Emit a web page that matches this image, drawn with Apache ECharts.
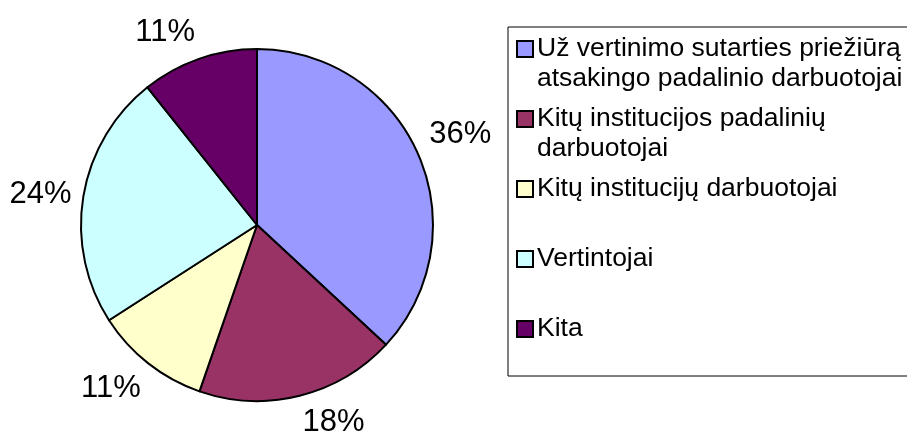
<!DOCTYPE html>
<html>
<head>
<meta charset="utf-8">
<script src="https://cdn.jsdelivr.net/npm/echarts@6/dist/echarts.min.js"></script>
<style>
  html, body { margin: 0; padding: 0; background: #fff; }
  #piechart { width: 907px; height: 437px; }
</style>
</head>
<body>
<div id="piechart"></div>
<script>
// categories (the \n marks where the legend wraps the name)
var names = [
    'Už vertinimo sutarties priežiūrą\natsakingo padalinio darbuotojai',
    'Kitų institucijos padalinių\ndarbuotojai',
    'Kitų institucijų darbuotojai',
    'Vertintojai',
    'Kita'
];
// slice sizes as drawn in the picture
var values = [36.9, 18.4, 10.6, 23.4, 10.7];
// percent labels as printed next to the slices
var percentLabels = ['36%', '18%', '11%', '24%', '11%'];
var colors = ['#9999FF', '#993366', '#FFFFCC', '#CCFFFF', '#660066'];

var font = "'Liberation Sans', Arial, sans-serif";
var pieCenter = [257, 225];
var pieRadius = 176;
var labelGap = 12;

var total = values.reduce(function (a, b) { return a + b; }, 0);

// one rich style per legend marker
var rich = {
    t: {fontSize: 26.5, fontFamily: font, color: '#000', lineHeight: 30},
    g: {width: 5, height: 1, lineHeight: 30},
    s: {width: 19, height: 1, lineHeight: 30}
};
colors.forEach(function (c, i) {
    rich['m' + i] = {
        width: 14, height: 14, lineHeight: 30,
        backgroundColor: c, borderColor: '#000', borderWidth: 2
    };
});

// excel-like placement: the label box corner sits on the slice's middle ray
function placeLabel(params) {
    var i = params.dataIndex;
    var before = 0;
    for (var k = 0; k < i; k++) before += values[k];
    var a = 2 * Math.PI * (before + values[i] / 2) / total;
    var dx = Math.sin(a), dy = -Math.cos(a);
    var d = pieRadius + labelGap;
    return {
        x: pieCenter[0] + d * dx,
        y: pieCenter[1] + d * dy,
        align: dx >= 0 ? 'left' : 'right',
        verticalAlign: Math.abs(dy) < 0.26 ? 'middle' : (dy > 0 ? 'top' : 'bottom')
    };
}

var myChart = echarts.init(document.getElementById('piechart'), null, {renderer: 'canvas'});

var option = {
    backgroundColor: '#fff',
    animation: false,
    legend: {
        orient: 'vertical',
        left: 508,
        top: 27,
        width: 440,
        padding: [7, 20, 2, 5],
        itemGap: 10,
        itemWidth: 0,
        itemHeight: 8,
        icon: 'none',
        borderColor: '#000',
        borderWidth: 1,
        backgroundColor: '#fff',
        selectedMode: false,
        data: names,
        formatter: function (name) {
            var i = names.indexOf(name);
            var lines = name.split('\n');
            return '{m' + i + '|}{g|}{t|' + lines[0] + '}\n{s|}{t|' + (lines[1] || ' ') + '}';
        },
        textStyle: {fontSize: 26.5, fontFamily: font, color: '#000', lineHeight: 30, rich: rich}
    },
    series: [
        {
            name: 'pie',
            type: 'pie',
            center: pieCenter,
            radius: [0, pieRadius],
            startAngle: 90,
            clockwise: true,
            avoidLabelOverlap: false,
            label: {
                show: true,
                position: 'outside',
                formatter: function (p) { return percentLabels[p.dataIndex]; },
                fontSize: 31,
                fontFamily: font,
                color: '#000',
                padding: 0
            },
            labelLine: {show: false},
            labelLayout: placeLabel,
            itemStyle: {borderColor: '#000', borderWidth: 2},
            emphasis: {disabled: true},
            data: names.map(function (n, i) {
                return {value: values[i], name: n, itemStyle: {color: colors[i]}};
            })
        }
    ]
};
myChart.setOption(option);
</script>
</body>
</html>
